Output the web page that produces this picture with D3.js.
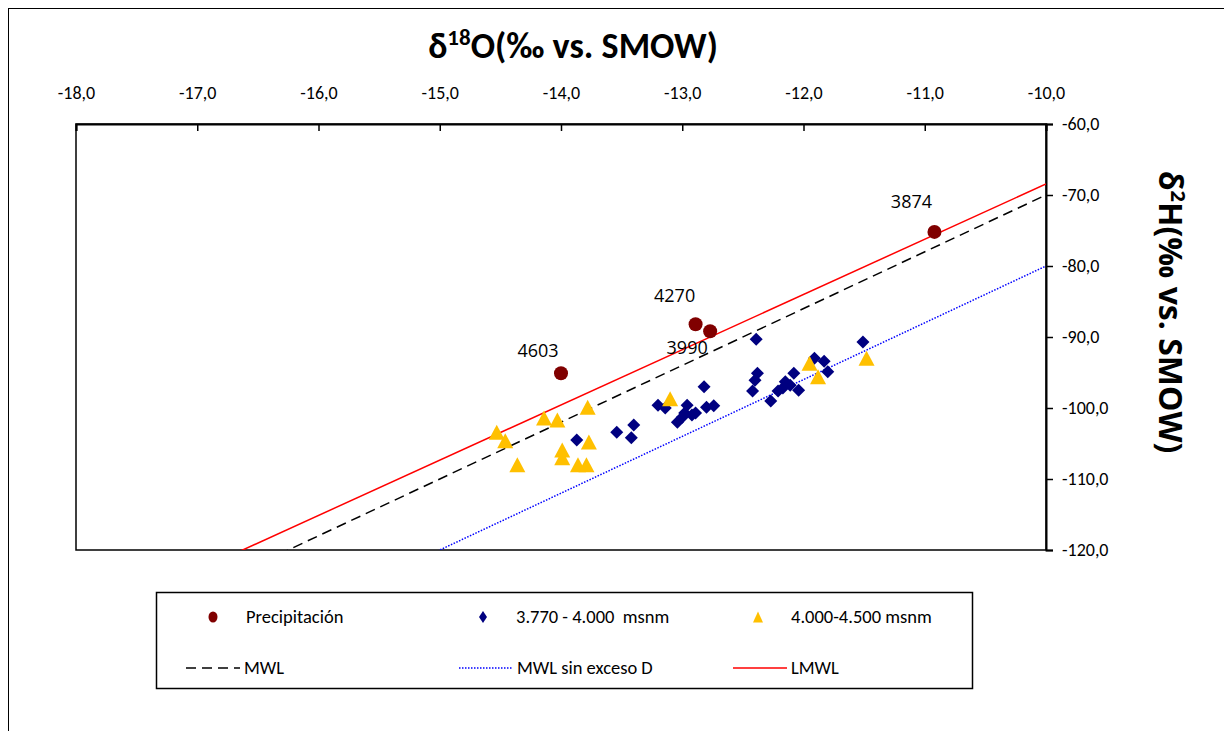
<!DOCTYPE html>
<html>
<head>
<meta charset="utf-8">
<script src="https://cdn.jsdelivr.net/npm/d3@7"></script>
<style>
  body { margin: 0; background: #fff; }
  svg { font-family: Carlito, "Open Sans", "Noto Sans", sans-serif; }
</style>
</head>
<body>
<svg id="chart" width="1224" height="731"></svg>
<script>
// precipitation samples, labelled by altitude
var precipX = [-10.92, -12.89, -12.77, -14.0];
var precipY = [-75.2, -88.2, -89.2, -95.1];
var precipLabels = ["3874", "4270", "3990", "4603"];

// 3.770 - 4.000 msnm
var lowX = [-13.87, -13.54, -13.40, -13.42, -13.20, -13.14, -12.96, -12.89, -12.98, -13.04,
            -13.00, -12.92, -12.82, -12.80, -12.74, -12.39, -12.38, -12.40, -12.42, -12.27,
            -12.21, -12.15, -12.11, -12.17, -12.08, -12.04, -11.91, -11.83, -11.80, -11.51];
var lowY = [-104.5, -103.4, -102.4, -104.2, -99.6, -100.0, -99.6, -100.7, -100.7, -102.0,
            -101.3, -101.0, -97.0, -99.9, -99.7, -90.3, -95.1, -96.1, -97.6, -99.0,
            -97.6, -96.3, -96.8, -97.2, -95.1, -97.5, -93.0, -93.4, -94.9, -90.7];

// 4.000-4.500 msnm
var highX = [-14.53, -14.46, -14.36, -14.14, -14.03, -13.78, -13.99, -13.99, -13.77, -13.86,
             -13.79, -13.10, -11.95, -11.88, -11.48];
var highY = [-103.4, -104.6, -108.0, -101.4, -101.7, -99.9, -105.9, -107.0, -104.8, -108.0,
             -108.0, -98.7, -93.7, -95.6, -93.0];

// reference lines dD = slope * d18O + intercept
var lineNames = ["MWL", "MWL sin exceso D", "LMWL"];
var lineSlopes = [8, 8, 7.78];
var lineIntercepts = [10, 0, 9.35];

var xTicks = [-18, -17, -16, -15, -14, -13, -12, -11, -10];
var yTicks = [-60, -70, -80, -90, -100, -110, -120];

var svg = d3.select("#chart");
var plotLeft = 76, plotRight = 1046, plotTop = 124, plotBottom = 550;

var x = d3.scaleLinear().domain([-18, -10]).range([plotLeft, plotRight]);
var y = d3.scaleLinear().domain([-120, -60]).range([plotBottom, plotTop]);
var fmt = function(v) { return d3.format(".1f")(v).replace(".", ",").replace("−", "-"); };

// outer chart border
svg.append("rect")
  .attr("x", 8.5).attr("y", 8.5)
  .attr("width", 1230).attr("height", 740)
  .attr("fill", "none").attr("stroke", "#000").attr("stroke-width", 1);

// plot frame
svg.append("rect")
  .attr("x", plotLeft).attr("y", plotTop)
  .attr("width", plotRight - plotLeft).attr("height", plotBottom - plotTop)
  .attr("fill", "none").attr("stroke", "#000").attr("stroke-width", 1.5);

svg.append("defs").append("clipPath").attr("id", "plotclip")
  .append("rect").attr("x", plotLeft).attr("y", plotTop)
  .attr("width", plotRight - plotLeft).attr("height", plotBottom - plotTop);

// top axis (ticks point into the plot)
var xAxis = svg.append("g")
  .attr("transform", "translate(0," + plotTop + ")")
  .call(d3.axisTop(x).tickValues(xTicks).tickSize(-7).tickPadding(25).tickFormat(fmt));
xAxis.select(".domain").attr("stroke-width", 2);
xAxis.selectAll(".tick line").attr("stroke-width", 1.5);
xAxis.selectAll("text").attr("font-size", 18).attr("fill", "#000")
  .attr("font-family", "Carlito, 'Open Sans', sans-serif");

// right axis
var yAxis = svg.append("g")
  .attr("transform", "translate(" + plotRight + ",0)")
  .call(d3.axisRight(y).tickValues(yTicks).tickSize(7).tickPadding(9).tickFormat(fmt));
yAxis.select(".domain").attr("stroke-width", 2);
yAxis.selectAll(".tick line").attr("stroke-width", 1.5);
yAxis.selectAll("text").attr("font-size", 18).attr("fill", "#000")
  .attr("font-family", "Carlito, 'Open Sans', sans-serif");

// titles
var xt = svg.append("text")
  .attr("x", 573).attr("y", 58)
  .attr("text-anchor", "middle")
  .attr("font-size", 36).attr("font-weight", "bold")
  .attr("font-family", "Carlito, 'Open Sans', sans-serif");
xt.append("tspan").text("δ");
xt.append("tspan").attr("font-size", 23).attr("dy", -13).text("18");
xt.append("tspan").attr("dy", 13).text("O(‰ vs. SMOW)");

var yt = svg.append("text")
  .attr("transform", "translate(1159,312) rotate(90)")
  .attr("text-anchor", "middle")
  .attr("font-size", 32).attr("font-weight", "bold")
  .attr("font-family", "'Open Sans', sans-serif");
yt.append("tspan").text("δ");
yt.append("tspan").attr("font-size", 20).attr("dy", -12).text("2");
yt.append("tspan").attr("dy", 12).text("H(‰ vs. SMOW)");

// reference lines
var lineStyles = [
  { stroke: "#000", dash: "10,6", width: 1.5 },
  { stroke: "#0000ff", dash: "1.5,1.5", width: 1.5 },
  { stroke: "#ff0000", dash: null, width: 1.5 }
];
var linesG = svg.append("g").attr("clip-path", "url(#plotclip)");
lineNames.forEach(function(name, i) {
  var xs = [-18, -10];
  linesG.append("line")
    .attr("x1", x(xs[0])).attr("y1", y(lineSlopes[i] * xs[0] + lineIntercepts[i]))
    .attr("x2", x(xs[1])).attr("y2", y(lineSlopes[i] * xs[1] + lineIntercepts[i]))
    .attr("stroke", lineStyles[i].stroke)
    .attr("stroke-width", lineStyles[i].width)
    .attr("stroke-dasharray", lineStyles[i].dash);
});

function trianglePath(w, h) {
  return "M0," + (-h / 2) + "L" + (w / 2) + "," + (h / 2) + "L" + (-w / 2) + "," + (h / 2) + "Z";
}
function diamondPath(r) {
  return "M0," + (-r) + "L" + r + ",0L0," + r + "L" + (-r) + ",0Z";
}

var marks = svg.append("g");

// diamonds
marks.selectAll(".low").data(d3.range(lowX.length)).join("path")
  .attr("class", "low")
  .attr("d", diamondPath(6.5))
  .attr("transform", function(i) { return "translate(" + x(lowX[i]) + "," + y(lowY[i]) + ")"; })
  .attr("fill", "#000080");

// triangles
marks.selectAll(".high").data(d3.range(highX.length)).join("path")
  .attr("class", "high")
  .attr("d", trianglePath(16, 15))
  .attr("transform", function(i) { return "translate(" + x(highX[i]) + "," + y(highY[i]) + ")"; })
  .attr("fill", "#ffc000");

// precipitation circles
marks.selectAll(".precip").data(d3.range(precipX.length)).join("circle")
  .attr("class", "precip")
  .attr("cx", function(i) { return x(precipX[i]); })
  .attr("cy", function(i) { return y(precipY[i]); })
  .attr("r", 7)
  .attr("fill", "#800000");

var labelOffsets = [[-23, -24], [-21, -22], [-23, 23], [-23, -16]];
marks.selectAll(".plabel").data(d3.range(precipX.length)).join("text")
  .attr("class", "plabel")
  .attr("x", function(i) { return x(precipX[i]) + labelOffsets[i][0]; })
  .attr("y", function(i) { return y(precipY[i]) + labelOffsets[i][1]; })
  .attr("text-anchor", "middle")
  .attr("font-size", 18)
  .attr("font-family", "'Open Sans', sans-serif")
  .text(function(i) { return precipLabels[i]; });

// legend
var legend = svg.append("g");
legend.append("rect")
  .attr("x", 156.5).attr("y", 592.5)
  .attr("width", 816).attr("height", 96)
  .attr("fill", "#fff").attr("stroke", "#000").attr("stroke-width", 1.5);

var legendFont = "Carlito, 'Open Sans', sans-serif";
var row1 = 617, row2 = 668;
var symItems = [
  { label: "Precipitación", x: 213, type: "circle" },
  { label: "3.770 - 4.000  msnm", x: 483, type: "diamond" },
  { label: "4.000-4.500 msnm", x: 758, type: "triangle" }
];
symItems.forEach(function(it) {
  if (it.type === "circle") {
    legend.append("ellipse").attr("cx", it.x).attr("cy", row1).attr("rx", 4.5).attr("ry", 5.5).attr("fill", "#800000");
  } else if (it.type === "diamond") {
    legend.append("path").attr("d", "M0,-6L4,0L0,6L-4,0Z")
      .attr("transform", "translate(" + it.x + "," + row1 + ")").attr("fill", "#000080");
  } else {
    legend.append("path").attr("d", trianglePath(10, 11))
      .attr("transform", "translate(" + it.x + "," + row1 + ")").attr("fill", "#ffc000");
  }
  legend.append("text").attr("x", it.x + 33).attr("y", row1 + 6)
    .attr("font-size", 18.5).attr("font-family", legendFont).attr("xml:space", "preserve")
    .text(it.label);
});

var lineItemX = [186, 459, 733];
lineNames.forEach(function(name, i) {
  legend.append("line")
    .attr("x1", lineItemX[i]).attr("x2", lineItemX[i] + 54)
    .attr("y1", row2).attr("y2", row2)
    .attr("stroke", lineStyles[i].stroke)
    .attr("stroke-width", lineStyles[i].width)
    .attr("stroke-dasharray", lineStyles[i].dash);
  legend.append("text").attr("x", lineItemX[i] + 58).attr("y", row2 + 6)
    .attr("font-size", 18.5).attr("font-family", legendFont)
    .text(name);
});
</script>
</body>
</html>
